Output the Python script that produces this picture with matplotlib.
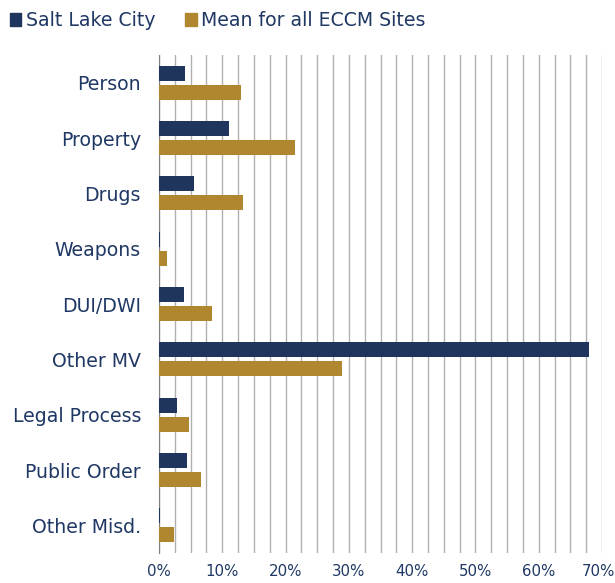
import matplotlib
matplotlib.use("Agg")
import matplotlib.pyplot as plt
import numpy as np
from matplotlib.ticker import MultipleLocator, FuncFormatter
from matplotlib.patches import Patch
from matplotlib.transforms import ScaledTranslation

categories = ["Person", "Property", "Drugs", "Weapons", "DUI/DWI", "Other MV",
              "Legal Process", "Public Order", "Other Misd."]
slc = [4.1, 11.0, 5.6, 0.1, 4.0, 68.0, 2.9, 4.5, 0.1]
mean_all = [13.0, 21.5, 13.3, 1.3, 8.4, 28.9, 4.8, 6.7, 2.3]
series_names = ["Salt Lake City", "Mean for all ECCM Sites"]
xticks = [0, 10, 20, 30, 40, 50, 60, 70]

navy = "#1f355e"
gold = "#b0862e"
txt = "#1f3864"
font = "DejaVu Sans"

fig = plt.figure(figsize=(6.15, 5.83), dpi=100)
ax = fig.add_axes([159/615, 1-553/583, (602-159)/615, (553-55)/583])

y = np.arange(len(categories))
h = 0.27
ax.barh(y - 0.17, slc, height=h, color=navy, zorder=3)
ax.barh(y + 0.17, mean_all, height=h, color=gold, zorder=3)

ax.set_ylim(len(categories) - 0.5, -0.5)
ax.set_xlim(0, 70)
ax.xaxis.set_minor_locator(MultipleLocator(2.5))
ax.set_xticks(xticks)
ax.xaxis.set_major_formatter(FuncFormatter(lambda v, p: f"{v:.0f}%"))
ax.grid(axis="x", which="both", color="#b0b0b0", linewidth=1.0, zorder=0)
for s in ["top", "right", "bottom"]:
    ax.spines[s].set_visible(False)
ax.spines["left"].set_color("#808080")
ax.tick_params(axis="x", which="both", length=0, pad=8, labelsize=10.8, labelcolor=txt)
ax.tick_params(axis="y", length=0, pad=13, labelsize=13.6, labelcolor=txt)
ax.set_yticks(y)
ax.set_yticklabels(categories, fontfamily=font)
for lab in ax.get_xticklabels():
    lab.set_fontfamily(font)
last = ax.get_xticklabels()[-1]
last.set_transform(last.get_transform() + ScaledTranslation(-4/100, 0, fig.dpi_scale_trans))

handles = [Patch(color=navy), Patch(color=gold)]
fig.legend(handles, series_names, loc="upper left", bbox_to_anchor=(-0.012, 1.01),
           ncol=2, frameon=False, labelcolor=txt,
           handlelength=0.62, handleheight=0.62, handletextpad=0.25, columnspacing=1.55,
           prop={"family": font, "size": 13.6})

fig.savefig("out.png", dpi=100)
